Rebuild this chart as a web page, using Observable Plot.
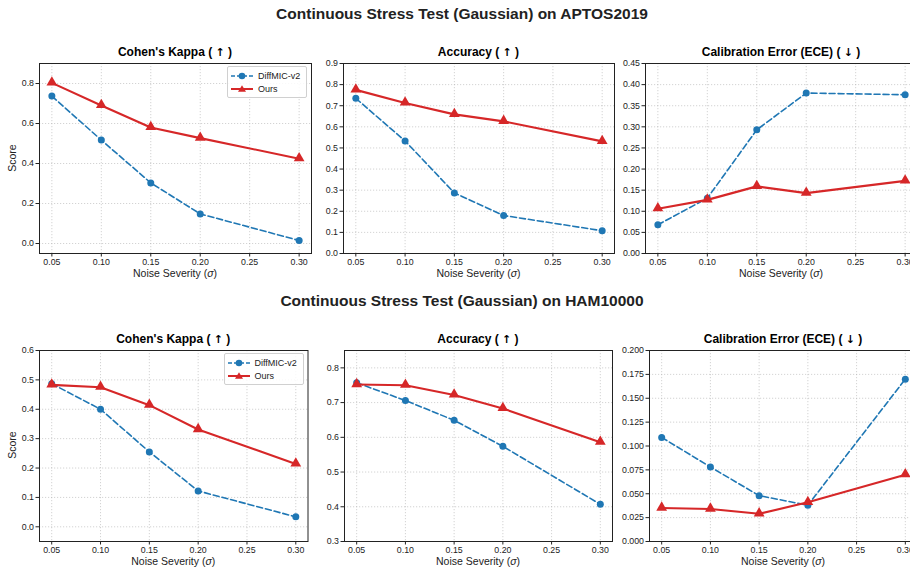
<!DOCTYPE html>
<html>
<head>
<meta charset="utf-8">
<script src="https://cdn.jsdelivr.net/npm/d3@7"></script>
<script src="https://cdn.jsdelivr.net/npm/@observablehq/plot@0.6"></script>
<style>
  html, body { margin: 0; padding: 0; background: #fff; }
  body { width: 910px; height: 569px; position: relative; overflow: hidden; font-family: "Liberation Sans", Arial, sans-serif; color: #222; }
  .abs { position: absolute; white-space: nowrap; }
  .main { font-weight: bold; font-size: 15.5px; transform: translateX(-50%); }
  .sub { font-weight: bold; font-size: 12px; transform: translateX(-50%); color: #000; }
  .sub .arr { font-family: "DejaVu Sans", sans-serif; font-weight: bold; font-size: 11px; }
  .xl { font-size: 10.5px; transform: translateX(-50%); }
  .yl { font-size: 10.5px; transform: translate(-50%, -50%) rotate(-90deg); }
  .legend { border: 1px solid #d0d0d0; border-radius: 2px; background: rgba(255,255,255,0.85); font-size: 9px; padding: 2px 3px; }
  .legend div { display: flex; align-items: center; height: 13px; }
  .legend svg { margin-right: 5px; }
  svg.plot { position: absolute; overflow: visible; }
</style>
</head>
<body>
<script>
// ---------------- data ----------------
const sigma = [0.05, 0.10, 0.15, 0.20, 0.30];
const xTicks = [0.05, 0.10, 0.15, 0.20, 0.25, 0.30];
const seriesNames = ["DiffMIC-v2", "Ours"];
const datasetTitles = ["Continuous Stress Test (Gaussian) on APTOS2019", "Continuous Stress Test (Gaussian) on HAM10000"];
const metricNames = ["Cohen's Kappa", "Accuracy", "Calibration Error (ECE)"];
const metricArrows = ["\u2191", "\u2191", "\u2193"];

const aptosKappaDiff = [0.737, 0.517, 0.303, 0.148, 0.015];
const aptosKappaOurs = [0.803, 0.690, 0.580, 0.527, 0.424];
const aptosAccDiff   = [0.735, 0.533, 0.287, 0.180, 0.108];
const aptosAccOurs   = [0.775, 0.713, 0.659, 0.626, 0.531];
const aptosEceDiff   = [0.068, 0.131, 0.293, 0.380, 0.376];
const aptosEceOurs   = [0.106, 0.127, 0.159, 0.143, 0.172];

const hamKappaDiff = [0.487, 0.400, 0.255, 0.122, 0.034];
const hamKappaOurs = [0.483, 0.475, 0.414, 0.331, 0.214];
const hamAccDiff   = [0.757, 0.706, 0.649, 0.574, 0.407];
const hamAccOurs   = [0.752, 0.750, 0.722, 0.683, 0.586];
const hamEceDiff   = [0.109, 0.078, 0.048, 0.038, 0.170];
const hamEceOurs   = [0.035, 0.034, 0.029, 0.041, 0.070];

const aptosKappaTicks = [0.0, 0.2, 0.4, 0.6, 0.8];
const aptosAccTicks = [0.0, 0.1, 0.2, 0.3, 0.4, 0.5, 0.6, 0.7, 0.8, 0.9];
const aptosEceTicks = [0.00, 0.05, 0.10, 0.15, 0.20, 0.25, 0.30, 0.35, 0.40, 0.45];
const hamKappaTicks = [0.0, 0.1, 0.2, 0.3, 0.4, 0.5, 0.6];
const hamAccTicks = [0.3, 0.4, 0.5, 0.6, 0.7, 0.8];
const hamEceTicks = [0.000, 0.025, 0.050, 0.075, 0.100, 0.125, 0.150, 0.175, 0.200];

// ---------------- layout ----------------
const BLUE = "#1f77b4", RED = "#d62728";
const mL = 45, mR = 4, mT = 4, mB = 22;

const panels = [
  {diff: aptosKappaDiff, ours: aptosKappaOurs, ticks: aptosKappaTicks, fmt: ".1f", dom: [-0.05, 0.9], box: [39, 311, 62.5, 252.5], title: 0, legend: true, ylabel: true},
  {diff: aptosAccDiff, ours: aptosAccOurs, ticks: aptosAccTicks, fmt: ".1f", dom: [0, 0.9], box: [343, 614, 62.5, 252.5], title: 1},
  {diff: aptosEceDiff, ours: aptosEceOurs, ticks: aptosEceTicks, fmt: ".2f", dom: [0, 0.45], box: [645, 917, 62.5, 252.5], title: 2},
  {diff: hamKappaDiff, ours: hamKappaOurs, ticks: hamKappaTicks, fmt: ".1f", dom: [-0.05, 0.6], box: [39, 307.5, 349.5, 540.5], title: 0, legend: true, ylabel: true},
  {diff: hamAccDiff, ours: hamAccOurs, ticks: hamAccTicks, fmt: ".1f", dom: [0.3, 0.85], box: [344, 612, 349.5, 540.5], title: 1},
  {diff: hamEceDiff, ours: hamEceOurs, ticks: hamEceTicks, fmt: ".3f", dom: [0, 0.2], box: [649, 917, 349.5, 540.5], title: 2}
];

function addText(cls, text, left, top, html) {
  const d = document.createElement("div");
  d.className = "abs " + cls;
  if (html) d.innerHTML = text; else d.textContent = text;
  d.style.left = left + "px";
  d.style.top = top + "px";
  document.body.appendChild(d);
  return d;
}

addText("main", datasetTitles[0], 462, 5);
addText("main", datasetTitles[1], 462, 292);

for (const p of panels) {
  const [x0, x1, y0, y1] = p.box;
  const rows = sigma.map((s, i) => ({s, diff: p.diff[i], ours: p.ours[i]}));
  const chart = Plot.plot({
    width: (x1 - x0) + mL + mR,
    height: (y1 - y0) + mT + mB,
    marginLeft: mL, marginRight: mR, marginTop: mT, marginBottom: mB,
    style: {fontFamily: "Liberation Sans, Arial, sans-serif", fontSize: "8.8px", color: "#222", background: "transparent", overflow: "visible"},
    x: {domain: [0.0375, 0.3125], ticks: xTicks, tickFormat: ".2f", label: null, tickSize: 3.5, tickPadding: 2},
    y: {domain: p.dom, ticks: p.ticks, tickFormat: p.fmt, label: null, tickSize: 3.5, tickPadding: 2},
    marks: [
      Plot.gridX(xTicks, {stroke: "#b0b0b0", strokeOpacity: 0.7, strokeDasharray: "1.2,1.8", strokeWidth: 0.8}),
      Plot.gridY(p.ticks, {stroke: "#b0b0b0", strokeOpacity: 0.7, strokeDasharray: "1.2,1.8", strokeWidth: 0.8}),
      Plot.line(rows, {x: "s", y: "diff", stroke: BLUE, strokeWidth: 1.6, strokeDasharray: "6,3"}),
      Plot.dot(rows, {x: "s", y: "diff", symbol: "circle", r: 3.5, fill: BLUE}),
      Plot.line(rows, {x: "s", y: "ours", stroke: RED, strokeWidth: 2.1}),
      Plot.dot(rows, {x: "s", y: "ours", symbol: "triangle", r: 4, fill: RED, dy: -0.5}),
      Plot.axisX({ticks: xTicks, tickFormat: ".2f", tickSize: 3.5, tickPadding: 2, stroke: "#222"}),
      Plot.axisY({ticks: p.ticks, tickFormat: p.fmt, tickSize: 3.5, tickPadding: 2, stroke: "#222"}),
      Plot.frame({stroke: "#222", strokeWidth: 1})
    ]
  });
  chart.classList.add("plot");
  chart.style.left = (x0 - mL) + "px";
  chart.style.top = (y0 - mT) + "px";
  document.body.appendChild(chart);

  const cx = (x0 + x1) / 2;
  addText("sub", metricNames[p.title] + ' ( <span class="arr">' + metricArrows[p.title] + '</span> )', cx, y0 - 18, true);
  addText("xl", "Noise Severity (<i>\u03c3</i>)", cx, y1 + 14.5, true);
  if (p.ylabel) addText("yl", "Score", 12, (y0 + y1) / 2);

  if (p.legend) {
    const lg = document.createElement("div");
    lg.className = "abs legend";
    const styles = [
      {c: BLUE, dash: "4,2", w: 1.5, mk: '<circle cx="11" cy="5" r="3.3" fill="' + BLUE + '"/>'},
      {c: RED, dash: "", w: 2, mk: '<path d="M11,1.2 L15,7.8 L7,7.8 Z" fill="' + RED + '"/>'}
    ];
    lg.innerHTML = seriesNames.map((n, i) =>
      '<div><svg width="22" height="10"><line x1="0" x2="22" y1="5" y2="5" stroke="' + styles[i].c + '" stroke-width="' + styles[i].w + '" stroke-dasharray="' + styles[i].dash + '"/>' + styles[i].mk + '</svg><span>' + n + '</span></div>'
    ).join("");
    const lw = 80;
    lg.style.left = (x1 - 4 - lw) + "px";
    lg.style.top = (y0 + 3.5) + "px";
    lg.style.width = (lw - 8) + "px";
    document.body.appendChild(lg);
  }
}
</script>
</body>
</html>
